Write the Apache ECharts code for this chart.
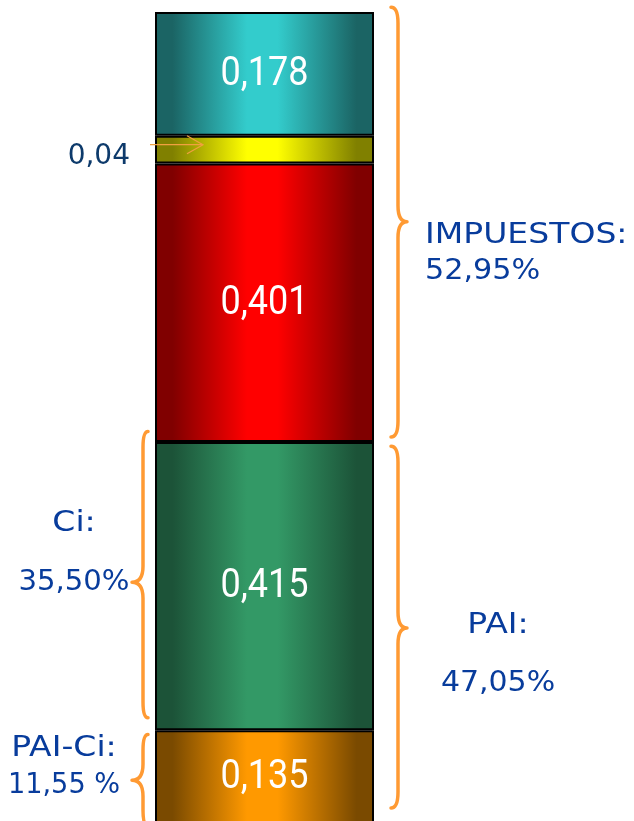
<!DOCTYPE html>
<html>
<head>
<meta charset="utf-8">
<title>Estructura</title>
<script src="https://cdn.jsdelivr.net/npm/echarts@6/dist/echarts.min.js"></script>
<style>
  html, body { margin: 0; padding: 0; background: #fff; }
  #chart { width: 634px; height: 821px; }
</style>
</head>
<body>
<div id="chart"></div>
<script>
  // datos del gráfico
  const categories = ['Estructura'];
  const segmentNames = ['PAI-Ci', 'Ci', 'Impuestos', 'Otros', 'Resto'];
  const segmentValues = [0.135, 0.415, 0.401, 0.04, 0.178];
  const segmentLabels = ['0,135', '0,415', '0,401', '', '0,178'];

  // llaves: rango de valores que abarcan y punto del pico
  const braceNames = ['IMPUESTOS', 'PAI', 'Ci', 'PAI-Ci'];
  const braceTop = [1.176, 0.544, 0.565, 0.129];
  const braceBottom = [0.557, 0.023, 0.153, -0.003];
  const braceTip = [0.867, 0.282, 0.348, 0.063];
  const braceLine1 = ['IMPUESTOS:', 'PAI:', 'Ci:', 'PAI-Ci:'];
  const braceLine2 = ['52,95%', '47,05%', '35,50%', '11,55 %'];

  const calloutValue = 0.978;
  const calloutText = '0,04';

  const total = segmentValues.reduce((a, b) => a + b, 0);

  // colores (borde oscuro, centro claro)
  const darkColors = ['#7a4a00', '#1c5338', '#800000', '#808000', '#1b6464'];
  const lightColors = ['#ff9900', '#339966', '#ff0000', '#ffff00', '#33cccc'];

  // posición de las llaves y textos respecto a la barra
  const braceSide = [1, 1, -1, -1];
  const braceText = [
    { align: 'left', dx: 18, dy1: 14, dy2: 50, s2: 1.08 },
    { align: 'center', dx: 91, dy1: -2, dy2: 56, s2: 1.07 },
    { align: 'center', dx: -58, dy1: -59, dy2: 0, s2: 1.04 },
    { align: 'center', dx: -68, dy1: -32, dy2: 5, s2: 0.97 }
  ];

  const textFont = 'DejaVu Sans';
  const textColor = '#083c9c';

  function grad(i) {
    return new echarts.graphic.LinearGradient(0, 0, 1, 0, [
      { offset: 0, color: darkColors[i] },
      { offset: 0.08, color: darkColors[i] },
      { offset: 0.42, color: lightColors[i] },
      { offset: 0.56, color: lightColors[i] },
      { offset: 0.92, color: darkColors[i] },
      { offset: 1, color: darkColors[i] }
    ]);
  }

  const barSeries = segmentValues.map((v, i) => ({
    name: segmentNames[i],
    type: 'bar',
    stack: 'total',
    barWidth: '100%',
    data: [v],
    itemStyle: { color: grad(i), borderColor: '#000', borderWidth: 2 },
    silent: true
  }));

  // etiquetas de los segmentos: [x, inicio acumulado, fin acumulado, índice]
  let acc = 0;
  const labelData = segmentValues.map((v, i) => {
    const d = [0, acc, acc + v, i];
    acc += v;
    return d;
  });

  function renderLabel(params, api) {
    const idx = api.value(3);
    const a = api.coord([0, api.value(1)]);
    const b = api.coord([0, api.value(2)]);
    if (!segmentLabels[idx]) return null;
    return {
      type: 'text',
      x: a[0],
      y: (a[1] + b[1]) / 2 + 1,
      scaleX: 0.9,
      style: {
        x: 0, y: 0, text: segmentLabels[idx],
        align: 'center', verticalAlign: 'middle',
        font: '40px Roboto', fill: '#fff'
      }
    };
  }

  const braceData = braceNames.map((n, i) => [0, braceTop[i], braceBottom[i], braceTip[i], i]);

  function renderBrace(params, api) {
    const idx = api.value(4);
    const pTop = api.coord([0, api.value(1)]);
    const pBot = api.coord([0, api.value(2)]);
    const pTip = api.coord([0, api.value(3)]);
    const band = api.size([1, 0])[0];
    const dir = braceSide[idx];
    const edge = pTop[0] + dir * band / 2;
    const xe = edge + dir * (dir > 0 ? 17 : 7);
    const xs = edge + dir * (dir > 0 ? 24 : 12);
    const xt = edge + dir * (dir > 0 ? 33 : 23);
    const yT = pTop[1], yB = pBot[1], yM = pTip[1];
    const r = 16;
    const path = 'M' + xe + ',' + yT +
      ' Q' + xs + ',' + yT + ' ' + xs + ',' + (yT + r) +
      ' L' + xs + ',' + (yM - r) +
      ' Q' + xs + ',' + yM + ' ' + xt + ',' + yM +
      ' Q' + xs + ',' + yM + ' ' + xs + ',' + (yM + r) +
      ' L' + xs + ',' + (yB - r) +
      ' Q' + xs + ',' + yB + ' ' + xe + ',' + yB;
    const t = braceText[idx];
    return {
      type: 'group',
      children: [
        {
          type: 'path',
          shape: { pathData: path },
          style: { fill: null, stroke: '#ff9a33', lineWidth: 3.5, lineCap: 'round', lineJoin: 'round' }
        },
        {
          type: 'text',
          x: xt + t.dx, y: yM + t.dy1, scaleX: 1.18,
          style: {
            x: 0, y: 0, text: braceLine1[idx],
            align: t.align, verticalAlign: 'middle',
            font: '28px ' + textFont, fill: textColor
          }
        },
        {
          type: 'text',
          x: xt + t.dx, y: yM + t.dy2, scaleX: t.s2,
          style: {
            x: 0, y: 0, text: braceLine2[idx],
            align: t.align, verticalAlign: 'middle',
            font: '28px ' + textFont, fill: textColor
          }
        }
      ]
    };
  }

  function renderCallout(params, api) {
    const p = api.coord([0, api.value(1)]);
    const band = api.size([1, 0])[0];
    const left = p[0] - band / 2;
    const x0 = left - 5, x1 = left + 48, y = p[1];
    return {
      type: 'group',
      children: [
        {
          type: 'polyline',
          shape: { points: [[x0, y], [x1, y]] },
          style: { stroke: '#f0a040', lineWidth: 1.2 }
        },
        {
          type: 'polyline',
          shape: { points: [[x1 - 16, y - 9], [x1, y], [x1 - 16, y + 9]] },
          style: { stroke: '#f0a040', lineWidth: 1.2, fill: null }
        },
        {
          type: 'text',
          x: left - 25, y: y + 12,
          style: {
            x: 0, y: 0, text: calloutText,
            align: 'right', verticalAlign: 'middle',
            font: '28px ' + textFont, fill: '#0d3a6b'
          }
        }
      ]
    };
  }

  const chart = echarts.init(document.getElementById('chart'));
  chart.setOption({
    animation: false,
    grid: { left: 155, width: 219, top: 12, height: 812, outerBoundsMode: 'none' },
    xAxis: { type: 'category', data: categories, show: false },
    yAxis: { type: 'value', min: 0, max: total, show: false },
    series: barSeries.concat([
      {
        type: 'custom',
        renderItem: renderLabel,
        data: labelData,
        clip: false,
        silent: true,
        z: 4
      },
      {
        type: 'custom',
        renderItem: renderBrace,
        data: braceData,
        clip: false,
        silent: true,
        z: 5
      },
      {
        type: 'custom',
        renderItem: renderCallout,
        data: [[0, calloutValue]],
        clip: false,
        silent: true,
        z: 6
      }
    ])
  });
</script>
</body>
</html>
